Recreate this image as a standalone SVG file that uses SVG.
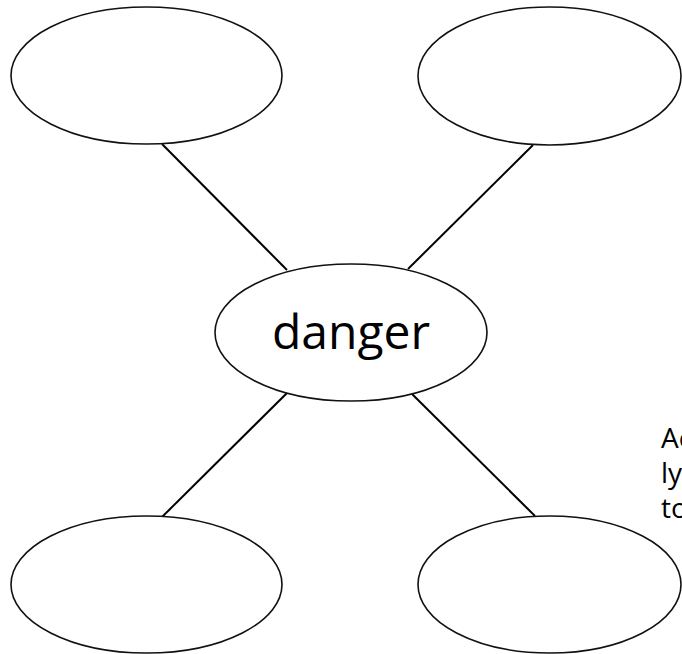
<svg xmlns="http://www.w3.org/2000/svg" width="682" height="654" viewBox="0 0 682 654">
<style>
.node{fill:#fff;stroke:#111;stroke-width:1.6}
.edge{stroke:#000;stroke-width:2;fill:none}
.lbl{font-family:"Open Sans","Noto Sans",sans-serif;fill:#000}
</style>
<rect width="682" height="654" fill="#fff"/>
<g id="connectors">
<line class="edge" x1="162" y1="144" x2="287" y2="270"/>
<line class="edge" x1="533" y1="145" x2="408" y2="269"/>
<line class="edge" x1="287" y1="393" x2="162" y2="517"/>
<line class="edge" x1="412" y1="394" x2="535" y2="516"/>
</g>
<g id="node-tl"><ellipse class="node" cx="146.5" cy="75.5" rx="135.5" ry="68.5"/></g>
<g id="node-tr"><ellipse class="node" cx="549.5" cy="76" rx="131.5" ry="69"/></g>
<g id="node-center"><ellipse class="node" cx="351" cy="332.5" rx="136" ry="68.5"/>
<text class="lbl" x="351" y="349" font-size="48" text-anchor="middle">danger</text></g>
<g id="node-bl"><ellipse class="node" cx="146.5" cy="584.5" rx="135.5" ry="68.5"/></g>
<g id="node-br"><ellipse class="node" cx="549.5" cy="584.5" rx="131.5" ry="68.5"/></g>
<g id="side-text">
<text class="lbl" x="661" y="448" font-size="28">Ac</text>
<text class="lbl" x="661" y="483" font-size="28">ly</text>
<text class="lbl" x="661" y="518" font-size="28">to</text>
</g>
</svg>
